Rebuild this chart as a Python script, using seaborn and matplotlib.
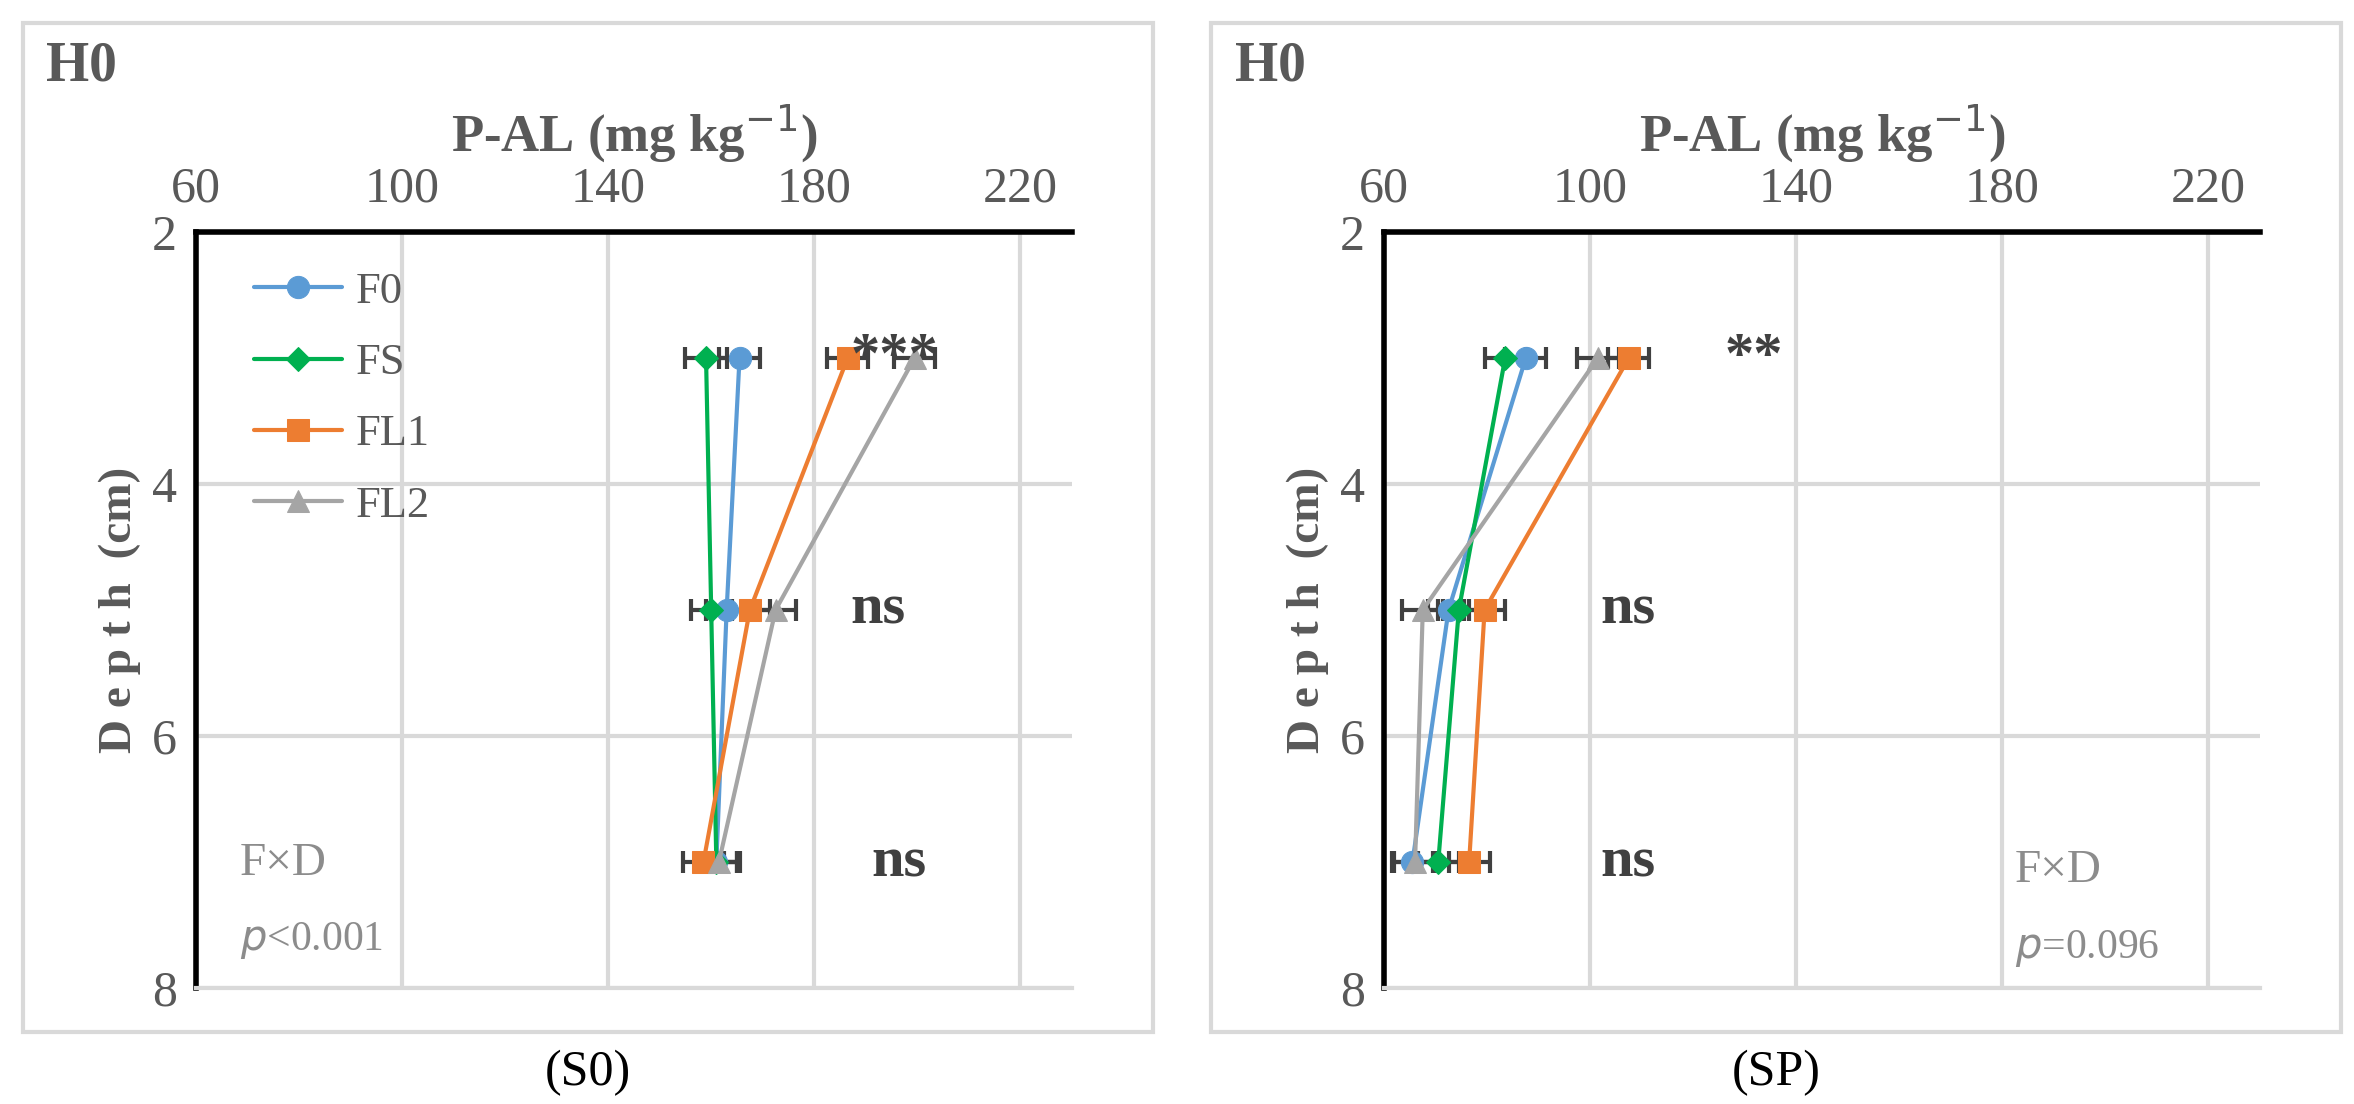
import matplotlib
matplotlib.use("Agg")
import matplotlib.pyplot as plt
import matplotlib.patches as mpatches
import seaborn as sns
import pandas as pd

# depth (cm) and P-AL values per treatment
depths = [3, 5, 7]
treatments = ["F0", "FS", "FL1", "FL2"]

s0_F0 = [165.5, 163.0, 161.0]
s0_FS = [159.0, 160.0, 161.0]
s0_FL1 = [186.5, 167.5, 158.5]
s0_FL2 = [199.5, 172.5, 161.5]
s0_err = [4.0, 4.0, 4.0]

sp_F0 = [87.5, 72.5, 65.5]
sp_FS = [83.5, 74.5, 70.5]
sp_FL1 = [107.5, 79.5, 76.5]
sp_FL2 = [101.5, 67.5, 66.0]
sp_err = [4.0, 4.0, 4.0]

s0_sig = ["***", "ns", "ns"]
sp_sig = ["**", "ns", "ns"]

colors = {"F0": "#5b9bd5", "FS": "#00b050", "FL1": "#ed7d31", "FL2": "#a5a5a5"}
markers = {"F0": "o", "FS": "D", "FL1": "s", "FL2": "^"}
msizes = {"F0": 16, "FS": 12, "FL1": 16, "FL2": 16}

sns.set_theme(style="white")
plt.rcParams["font.family"] = ["Liberation Serif", "DejaVu Serif"]
grey = "#595959"

fig = plt.figure(figsize=(23.54, 11.04), dpi=100)


def panel(left, series, err, sig, sig_x, fx_pos, fx_text, caption, box_left):
    fig.add_artist(mpatches.Rectangle((box_left, 0.065), 0.48, 0.914, transform=fig.transFigure,
                                      fill=False, edgecolor="#d9d9d9", linewidth=3))
    ax = fig.add_axes([left, 0.105, 0.372, 0.685])
    rows = []
    for t, vals in zip(treatments, series):
        for d, v in zip(depths, vals):
            rows.append({"treat": t, "depth": d, "pal": v})
    df = pd.DataFrame(rows)
    for t, vals in zip(treatments, series):
        ax.errorbar(vals, depths, xerr=err, fmt="none", ecolor="#404040", elinewidth=3,
                    capsize=8, capthick=3, zorder=2)
    for t in treatments:
        sub = df[df.treat == t]
        sns.lineplot(data=sub, x="pal", y="depth", sort=False, estimator=None, ax=ax,
                     color=colors[t], marker=markers[t], markersize=msizes[t],
                     markeredgecolor=colors[t], linewidth=3, label=t, zorder=3)
    ax.set_xlim(60, 230)
    ax.set_ylim(8, 2)
    ax.set_xticks([60, 100, 140, 180, 220])
    ax.set_yticks([2, 4, 6, 8])
    ax.xaxis.tick_top()
    ax.xaxis.set_label_position("top")
    ax.tick_params(axis="both", labelsize=36, colors=grey, length=0, pad=14)
    ax.set_xlabel("P-AL (mg kg$^{-1}$)", fontsize=38, fontweight="bold", color=grey, labelpad=10)
    ax.set_ylabel("D e p t h  (cm)", fontsize=34, fontweight="bold", color=grey, labelpad=8)
    ax.grid(True, color="#d9d9d9", linewidth=3)
    ax.set_axisbelow(True)
    ax.spines["right"].set_visible(False)
    ax.spines["bottom"].set_color("#d9d9d9")
    ax.spines["bottom"].set_linewidth(3)
    ax.spines["left"].set_color("black")
    ax.spines["left"].set_linewidth(4)
    ax.spines["top"].set_color("black")
    ax.spines["top"].set_linewidth(4)
    for d, s, x in zip(depths, sig, sig_x):
        ax.text(x, d, s, fontsize=42, fontweight="bold", color="#404040", va="center", ha="left")
    ax.text(fx_pos[0], fx_pos[1], "F×D", fontsize=34, color="#8c8c8c", transform=ax.transAxes)
    ax.text(fx_pos[0], fx_pos[1] - 0.1, fx_text, fontsize=30, color="#8c8c8c", transform=ax.transAxes)
    fig.text(box_left + 0.01, 0.94, "H0", fontsize=40, fontweight="bold", color=grey, va="center")
    fig.text(box_left + 0.24, 0.028, caption, fontsize=36, color="black", ha="center", va="center")
    return ax


ax1 = panel(0.0833, [s0_F0, s0_FS, s0_FL1, s0_FL2], s0_err, s0_sig, [187, 187, 191],
            (0.05, 0.15), "$p$<0.001", "(S0)", 0.0096)
ax1.legend(loc="upper left", fontsize=32, frameon=False, handlelength=2.0, labelspacing=0.7,
           handletextpad=0.3, bbox_to_anchor=(0.02, 1.0), labelcolor=grey)
ax2 = panel(0.588, [sp_F0, sp_FS, sp_FL1, sp_FL2], sp_err, sp_sig, [126, 102, 102],
            (0.72, 0.14), "$p$=0.096", "(SP)", 0.5145)
ax2.get_legend().remove()

fig.savefig("out.png", dpi=100)
